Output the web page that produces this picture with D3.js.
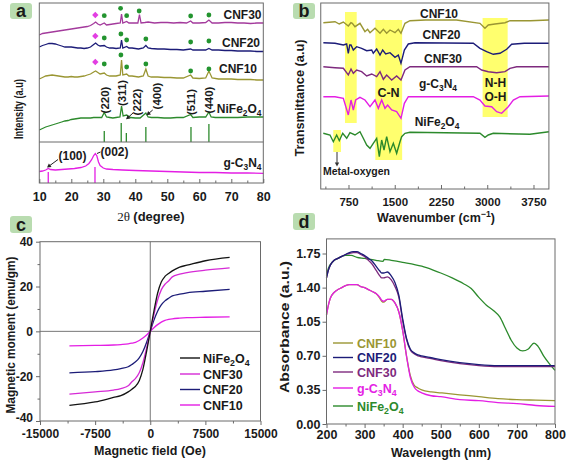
<!DOCTYPE html>
<html><head><meta charset="utf-8">
<script src="https://cdn.jsdelivr.net/npm/d3@7"></script>
<style>
body{margin:0;background:#fff;}
svg{display:block;}
text{font-family:"Liberation Sans",Arial,sans-serif;font-weight:bold;fill:#1a1a1a;}
</style></head><body>
<svg id="chart" width="567" height="465"></svg>
<script>
// ---------------- Panel a : XRD ----------------
const xrdCNF30 = [[10,148],[11,149.5],[12,150],[13,150.5],[14,151],[15,151.5],[16,152],[17,152.5],[18,153],[19,153.5],[20,154],[21,154.5],[22,155],[23,155.5],[24,156],[25,156.5],[26,157.5],[27,159.5],[27.6,161],[28.3,159],[29,158],[30.3,160],[31,158],[32,158.5],[33,159],[34,159.5],[35.3,160],[35.7,169],[36.1,160],[37.3,161.5],[38,160],[39,160],[40.8,160],[41.3,168.5],[41.8,160],[43,160.5],[44,161],[46,160],[48,160.5],[50,160.5],[52,160],[54,160.5],[56,160],[57.3,162],[58,160],[60,160],[62,160.5],[63,163],[64,160],[66,160],[68,160.5],[70,160.5],[72,160],[74,160],[76,159.5],[78,160],[80,160]];
const xrdCNF20 = [[10,136],[11,137.5],[12,138.5],[13,139.5],[14,139.5],[15,139],[16,138],[17,137],[18,136],[19,136],[20,136],[21,135.5],[22,135],[23,135],[24,134.5],[25,135],[26,136],[27,138.5],[27.6,140],[28.3,138],[29,137],[30.3,137.5],[31,136],[32,135],[33,135],[34,134.5],[35.3,135],[35.7,143],[36.1,135],[37.3,136.5],[38,135],[39,135],[41,134],[42.5,135],[43.3,137.5],[44,135],[45,134.5],[47,134],[49,134],[51,133.5],[53,133.5],[55,133],[57.3,134],[58,133],[60,133],[62,133],[63,134.5],[64,133],[66,133],[68,132.5],[70,132.5],[72,132],[74,132],[76,132],[78,131.5],[80,131.5]];
const xrdCNF10 = [[10,104],[11,105.5],[12,107],[13,107.5],[14,108],[15,107.5],[16,107],[17,106.5],[18,106],[19,106],[20,106.5],[21,106],[22,106],[23,106.5],[24,107],[25,108],[26,109],[27,111],[27.6,112],[28.3,110.5],[29,109],[30.3,110],[31,108],[32,107],[33,107],[34,107],[35.3,108],[35.7,123],[36.1,108],[37.3,109],[38,107],[39,107],[41,106],[42.5,107],[43.3,114],[44,107],[45,106],[47,106],[49,105.5],[51,105.5],[53,105],[55,105],[57.3,108],[58,105],[60,104.5],[62,105],[63,112],[64,105],[66,104],[68,104],[70,104],[72,103.5],[74,103.5],[76,103.5],[78,103],[80,103]];
const xrdNiFe = [[10,53],[11,54.5],[12,56],[13,57],[14,58],[15,59],[16,60],[17,61],[18,62],[19,62.5],[20,63.5],[21,64],[22,64.5],[23,65],[24,65],[25,65],[26,65],[27,65.5],[28,65.5],[29.5,65.5],[30.3,70.5],[31,66],[32,65.5],[33,65],[34,65.5],[35.2,66],[35.7,77],[36.2,67],[37.3,68],[38.5,65.5],[40,65],[41.5,65],[43.3,70],[44,66],[45,65.5],[47,65.5],[49,65],[51,65],[53,65.5],[55,65.5],[57.3,68.5],[58,65.5],[60,66],[62,66],[63,71],[63.7,66],[65,65.5],[67,65.5],[70,65.5],[72,65.5],[75,66],[78,66],[80,66]];
const xrdGCN = [[10,11.5],[11,12],[12,13],[12.8,14.5],[13.5,13.5],[15,13],[17,13.5],[19,14],[21,14.5],[23,15.5],[24.5,17],[25.5,19.5],[26.3,23],[27,27.5],[27.5,29.5],[28,27],[28.5,21],[29,17.5],[30,15],[31,14],[33,13.5],[36,13],[40,12.5],[45,12],[50,11.5],[55,11],[60,10.5],[65,10.5],[70,10],[75,10],[80,9.7]];
const sticksNiFe = [[30.3,52],[35.6,60],[37.2,50],[43.3,56],[57.4,56],[63,59]];
const sticksGCN = [[12.8,11],[27.4,16]];
const markCNF30 = {diamond:[[27.5,168]], circles:[[30.3,167.3],[35.4,174.7],[37.3,167.3],[41.2,172],[57.3,167],[63,168]]};
const markCNF20 = {diamond:[[27.5,147]], circles:[[30.3,145],[35.5,149],[37.3,143],[43.3,144],[57.3,141],[63,142]]};
const markCNF10 = {diamond:[[27.5,121]], circles:[[30.3,119],[35.5,128],[37.3,116],[43.3,119],[57.3,112],[63,114]]};
const hklNiFe = [["(220)",30.3,100],["(311)",35.6,93],["(222)",40.5,102],["(400)",46.6,96],["(511)",57.2,102],["(440)",62.9,100]];
const xTicksA = [10,20,30,40,50,60,70,80];

// ---------------- Panel b : FTIR ----------------
const irCNF10 = [[342,166.3],[531,167.3],[600,165],[666,167],[747,163],[790,166.3],[812,165.7],[855,162.3],[936,165.7],[1017,157.3],[1060,159.7],[1099,156.3],[1180,160.7],[1261,155.7],[1315,159.7],[1369,155.7],[1423,159],[1504,156.3],[1558,159.7],[1601,155.7],[1666,165.7],[1747,168.3],[2000,169],[2500,169],[2882,165.7],[2963,160.7],[3017,164],[3125,165],[3288,166.3],[3369,168.3],[3700,168.3],[4000,169]];
const irCNF20 = [[342,146.3],[531,145.7],[666,144],[720,145],[747,135.7],[770,144],[791,144],[828,139],[882,142.3],[963,140.7],[1045,138.3],[1126,139],[1152,135.7],[1207,140],[1261,134],[1304,139],[1353,135],[1423,136.3],[1504,131.7],[1558,134],[1601,125.7],[1656,139],[1720,145],[1828,146.3],[2774,145.7],[2882,140.7],[2990,137.3],[3098,134.7],[3207,135.7],[3315,139.7],[3396,144.7],[3600,145.7],[4000,145.7]];
const irCNF30 = [[342,122.3],[531,121.3],[666,120.7],[747,114],[791,120],[828,115.7],[882,119],[963,117.3],[1045,113],[1126,115],[1207,112.3],[1261,117.3],[1315,109.7],[1369,114],[1450,109],[1531,113],[1601,109],[1666,119],[1747,122.3],[2828,122.3],[2909,119],[3017,117.3],[3153,116.3],[3288,117.3],[3369,120.7],[3477,122.3],[4000,122.3]];
const irGCN = [[342,92.3],[531,92.3],[666,90.7],[747,74],[791,89],[828,79],[866,89],[936,91.7],[1017,89],[1099,82.3],[1180,89],[1234,80.7],[1288,89],[1342,80.7],[1385,84],[1450,79],[1531,77.3],[1601,70.7],[1656,85.7],[1720,92.3],[2774,92.3],[2882,89],[2963,83],[3072,82.3],[3153,77.3],[3234,75.7],[3341,82.3],[3423,89],[3531,92.3],[4000,93]];
const irNiFe = [[341,55.7],[450,54],[504,47.3],[558,54],[601,48.3],[656,55.7],[721,50.7],[774,56.3],[855,54],[936,57.3],[990,50.7],[1045,44],[1099,40.7],[1152,45.7],[1207,50.7],[1250,32.3],[1288,49],[1326,39],[1369,52.3],[1423,37.3],[1477,45.7],[1531,35.7],[1585,47.3],[1612,52.3],[1666,55.7],[1747,56.7],[2882,55.7],[2963,51.7],[3017,54],[3098,55.7],[3693,54.7],[4000,57.3]];
const bandsB = [[693,883,66,177],[1185,1620,29,169],[2925,3331,72,171],[503,628,37,59]];
const xTicksB = [750,1500,2250,3000,3750];

// ---------------- Panel c : VSM ----------------
const fieldC = [-11000,-7500,-5000,-4000,-3000,-2500,-2000,-1500,-1000,-500,0,500,1000,1500,2000,2500,3000,4000,5000,7500,10800];
const magNiFe = [-33,-31.5,-29.5,-28.7,-27,-25.8,-24.5,-22,-17,-9,0,9,17,22,24.5,25.8,27,28.7,29.5,31.5,33];
const magCNF30 = [-28,-27,-26.2,-25.5,-24.3,-22.5,-21,-18.5,-14,-7.5,0,7.5,14,18.5,21,22.5,24.3,25.5,26.2,27.3,28.3];
const magCNF20 = [-18.5,-18,-17.2,-16.6,-15.8,-14.8,-13.6,-11.8,-9,-5,0,5,9,11.8,13.6,14.8,15.8,16.6,17.2,17.9,18.7];
const magCNF10 = [-6.5,-6.3,-6.1,-5.9,-5.6,-5.3,-4.9,-4.1,-3,-1.6,0,1.6,3,4.1,4.9,5.3,5.6,5.9,6.1,6.3,6.5];
const xTicksC = [-15000,-7500,0,7500,15000];
const yTicksC = [-40,-20,0,20,40];

// ---------------- Panel d : UV-vis ----------------
const wl = [200,205,210,220,230,240,250,260,270,280,290,300,310,320,330,340,345,350,360,370,380,390,400,410,420,430,440,450,475,500,550,600,650,700,750,800];
const absCNF20 = [1.50,1.58,1.63,1.68,1.70,1.72,1.74,1.76,1.77,1.77,1.75,1.73,1.70,1.67,1.62,1.57,1.55,1.55,1.56,1.52,1.45,1.32,1.08,0.88,0.77,0.73,0.71,0.70,0.68,0.66,0.63,0.61,0.60,0.60,0.60,0.60];
const absCNF30 = [1.50,1.58,1.63,1.68,1.70,1.72,1.74,1.75,1.76,1.76,1.74,1.72,1.68,1.64,1.58,1.52,1.50,1.50,1.51,1.48,1.41,1.30,1.06,0.87,0.76,0.72,0.70,0.69,0.67,0.65,0.62,0.60,0.59,0.59,0.59,0.59];
const absCNF10 = [1.12,1.22,1.29,1.35,1.38,1.40,1.42,1.43,1.43,1.43,1.41,1.40,1.38,1.36,1.34,1.29,1.26,1.25,1.28,1.28,1.24,1.15,0.96,0.70,0.50,0.40,0.37,0.35,0.33,0.32,0.30,0.28,0.26,0.25,0.245,0.24];
const absGCN = [1.12,1.22,1.29,1.35,1.38,1.40,1.42,1.43,1.43,1.43,1.41,1.40,1.38,1.36,1.34,1.30,1.27,1.26,1.28,1.28,1.24,1.15,0.96,0.70,0.48,0.38,0.34,0.32,0.29,0.28,0.25,0.24,0.22,0.21,0.19,0.18];
const wlNiFe = [200,205,215,230,250,265,280,300,330,348,352,370,400,450,480,500,530,560,580,600,620,640,655,670,685,700,715,730,745,755,770,785,800];
const absNiFe = [1.52,1.60,1.66,1.70,1.73,1.73,1.71,1.70,1.68,1.67,1.69,1.68,1.66,1.62,1.58,1.55,1.50,1.44,1.39,1.30,1.22,1.16,1.10,0.98,0.86,0.78,0.75,0.77,0.83,0.80,0.70,0.62,0.55];
const xTicksD = [200,300,400,500,600,700,800];
const yTicksD = [0,0.35,0.70,1.05,1.40,1.75];

const COL = {olive:"#9a9633", navy:"#1c1c78", purpleA:"#a33a9c", purple:"#7e2a7e", magenta:"#e41ee4", green:"#2c8a2c", black:"#141414", mag2:"#d62ad6", yellow:"#ffff6e", tag:"#b9dcb0", axis:"#6a6a6a"};

const svg = d3.select("#chart");

function rich(t, s, fs){
  const parts = s.split(/(_\d+|\^[^\s)]+)/).filter(p=>p!=="");
  let shift = 0;
  parts.forEach(p=>{
    if(p[0]==="_"){ t.append("tspan").attr("dy", 3 - shift).attr("font-size", fs*0.7).text(p.slice(1)); shift = 3; }
    else if(p[0]==="^"){ t.append("tspan").attr("dy", -5 - shift).attr("font-size", fs*0.7).text(p.slice(1)); shift = -5; }
    else { t.append("tspan").attr("dy", -shift).text(p); shift = 0; }
  });
  return t;
}
function txt(g, x, y, s, fs, opts={}){
  const t = g.append("text").attr("x", x).attr("y", y).attr("font-size", fs)
    .attr("text-anchor", opts.anchor||"start");
  if(opts.fill) t.style("fill", opts.fill);
  if(opts.rotate) t.attr("transform", `rotate(${opts.rotate},${x},${y})`);
  if(opts.len) t.attr("textLength", opts.len).attr("lengthAdjust","spacingAndGlyphs");
  rich(t, s, fs);
  return t;
}
function box(g, x, y){
  const x0=x.range()[0], x1=x.range()[1], y0=y.range()[1], y1=y.range()[0];
  g.append("rect").attr("x",x0).attr("y",y0).attr("width",x1-x0).attr("height",y1-y0)
    .attr("fill","none").attr("stroke",COL.axis).attr("stroke-width",1);
}
function tag(x, y, w, h, letter){
  svg.append("rect").attr("x",x).attr("y",y).attr("width",w).attr("height",h).attr("rx",3).attr("fill",COL.tag);
  svg.append("text").attr("x",x+w/2).attr("y",y+h-2.5).attr("text-anchor","middle").attr("font-size",18).text(letter);
}
function styleAxis(a){
  a.select(".domain").remove();
  a.selectAll(".tick line").attr("stroke",COL.axis);
  a.selectAll(".tick text").attr("font-family",'"Liberation Sans",Arial,sans-serif').attr("font-weight","bold").attr("fill","#1a1a1a");
}
function arrowHead(g, x, y, ang, col){
  const r = ang*Math.PI/180, L=4, W=2.2;
  const bx = x - L*Math.cos(r), by = y - L*Math.sin(r);
  const px = -Math.sin(r)*W, py = Math.cos(r)*W;
  g.append("path").attr("d",`M${x},${y}L${bx+px},${by+py}L${bx-px},${by-py}Z`).attr("fill",col);
}

// ===== Panel a =====
(function(){
  const g = svg.append("g");
  const x = d3.scaleLinear().domain([10,80]).range([39.3,263.3]);
  const y = d3.scaleLinear().domain([0,180]).range([183,3]);
  const line = d3.line().x(d=>x(d[0])).y(d=>y(d[1]));
  const series = [[xrdCNF30,COL.purpleA],[xrdCNF20,COL.navy],[xrdCNF10,COL.olive],[xrdNiFe,COL.green],[xrdGCN,COL.magenta]];
  series.forEach(([d,c])=>g.append("path").datum(d).attr("d",line).attr("fill","none").attr("stroke",c).attr("stroke-width",1.3));
  sticksNiFe.forEach(s=>g.append("line").attr("x1",x(s[0])).attr("x2",x(s[0])).attr("y1",y(41)).attr("y2",y(s[1])).attr("stroke",COL.green).attr("stroke-width",1.3));
  sticksGCN.forEach(s=>g.append("line").attr("x1",x(s[0])).attr("x2",x(s[0])).attr("y1",y(0)).attr("y2",y(s[1])).attr("stroke",COL.magenta).attr("stroke-width",1.3));
  [markCNF30,markCNF20,markCNF10].forEach(m=>{
    m.circles.forEach(p=>g.append("circle").attr("cx",x(p[0])).attr("cy",y(p[1])).attr("r",2.4).attr("fill","#23942f"));
    m.diamond.forEach(p=>g.append("path").attr("transform",`translate(${x(p[0])},${y(p[1])})`)
      .attr("d",d3.symbol(d3.symbolDiamond2,26)()).attr("fill","#e23ee2"));
  });
  box(g,x,y);
  g.append("line").attr("x1",x(10)).attr("x2",x(80)).attr("y1",y(41)).attr("y2",y(41)).attr("stroke",COL.axis);
  const ax = g.append("g").attr("transform",`translate(0,${y(0)})`)
    .call(d3.axisBottom(x).tickValues(xTicksA).tickFormat(d=>d).tickSize(-4).tickPadding(9));
  styleAxis(ax); ax.selectAll(".tick text").attr("font-size",12.5);
  const axm = g.append("g").attr("transform",`translate(0,${y(0)})`)
    .call(d3.axisBottom(x).tickValues(d3.range(15,80,10)).tickFormat("").tickSize(-2.5));
  styleAxis(axm);
  txt(g,261.5,19,"CNF30",12,{anchor:"end"});
  txt(g,260,46.7,"CNF20",12,{anchor:"end"});
  txt(g,257,73.3,"CNF10",12,{anchor:"end"});
  txt(g,261.5,112.7,"NiFe_2O_4",12,{anchor:"end"});
  txt(g,261.5,167.3,"g-C_3N_4",12,{anchor:"end"});
  hklNiFe.forEach(h=>{
    const bx = x(h[1]) + 4.5;
    txt(g,bx,y(183-h[2]),h[0],11.5,{anchor:"middle",rotate:-90});
  });
  g.append("line").attr("x1",133).attr("y1",113).attr("x2",127.5).attr("y2",118).attr("stroke","#222").attr("stroke-width",1);
  arrowHead(g,126,119.3,140,"#222");
  g.append("line").attr("x1",152.7).attr("y1",110).attr("x2",148).attr("y2",114).attr("stroke","#222").attr("stroke-width",1);
  arrowHead(g,146.5,115.3,140,"#222");
  txt(g,58.5,160,"(100)",12);
  g.append("line").attr("x1",58).attr("y1",159.5).attr("x2",48.5).attr("y2",166.5).attr("stroke","#222").attr("stroke-width",1);
  arrowHead(g,47,167.6,143,"#222");
  txt(g,100.5,156,"(002)",12);
  g.append("line").attr("x1",100.5).attr("y1",152).attr("x2",97).attr("y2",153.5).attr("stroke","#222").attr("stroke-width",1);
  txt(g,23,109,"Intensity (a.u)",13,{anchor:"middle",rotate:-90,len:60});
  const xt = g.append("text").attr("x",151).attr("y",221).attr("text-anchor","middle").attr("font-size",13);
  xt.append("tspan").attr("font-family",'"Liberation Serif","Times New Roman",serif').attr("font-weight","normal").text("2θ ");
  xt.append("tspan").text("(degree)");
})();

// ===== Panel b =====
(function(){
  const g = svg.append("g");
  const x = d3.scaleLinear().domain([300,4000]).range([320.75,548.9]);
  const y = d3.scaleLinear().domain([0,186]).range([189,3]);
  const line = d3.line().x(d=>x(d[0])).y(d=>y(d[1]));
  bandsB.forEach(b=>g.append("rect").attr("x",x(b[0])).attr("width",x(b[1])-x(b[0])).attr("y",y(b[3])).attr("height",y(b[2])-y(b[3])).attr("fill",COL.yellow));
  const series = [[irCNF10,COL.olive],[irCNF20,COL.navy],[irCNF30,COL.purple],[irGCN,COL.magenta],[irNiFe,COL.green]];
  series.forEach(([d,c])=>g.append("path").datum(d).attr("d",line).attr("fill","none").attr("stroke",c).attr("stroke-width",1.4));
  box(g,x,y);
  const ax = g.append("g").attr("transform",`translate(0,${y(0)})`)
    .call(d3.axisBottom(x).tickValues(xTicksB).tickFormat(d=>d).tickSize(-4).tickPadding(9));
  styleAxis(ax); ax.selectAll(".tick text").attr("font-size",11.5);
  const axm = g.append("g").attr("transform",`translate(0,${y(0)})`)
    .call(d3.axisBottom(x).tickValues([375,1125,1875,2625,3375]).tickFormat("").tickSize(-2.5));
  styleAxis(axm);
  txt(g,439,18,"CNF10",12,{anchor:"middle"});
  txt(g,441.5,39,"CNF20",12,{anchor:"middle"});
  txt(g,443,63,"CNF30",12,{anchor:"middle"});
  txt(g,438,87.5,"g-C_3N_4",12,{anchor:"middle"});
  txt(g,437,126,"NiFe_2O_4",12,{anchor:"middle"});
  txt(g,388.5,97,"C-N",12.5,{anchor:"middle"});
  txt(g,495.5,87,"N-H",12,{anchor:"middle"});
  txt(g,495.5,101,"O-H",12,{anchor:"middle"});
  txt(g,323,175,"Metal-oxygen",11,{len:67});
  g.append("line").attr("x1",337).attr("x2",337).attr("y1",152).attr("y2",163).attr("stroke","#333").attr("stroke-width",1);
  arrowHead(g,337,166.5,90,"#333");
  txt(g,303.5,98,"Transmittance (a.u)",12.5,{anchor:"middle",rotate:-90,len:117});
  txt(g,436,222,"Wavenumber (cm^−1)",12.5,{anchor:"middle"});
})();

// ===== Panel c =====
(function(){
  const g = svg.append("g");
  const x = d3.scaleLinear().domain([-15000,15000]).range([40,260.5]);
  const y = d3.scaleLinear().domain([-40,40]).range([421,241.7]);
  g.append("line").attr("x1",x(0)).attr("x2",x(0)).attr("y1",y(-40)).attr("y2",y(40)).attr("stroke","#777");
  g.append("line").attr("x1",x(-15000)).attr("x2",x(15000)).attr("y1",y(0)).attr("y2",y(0)).attr("stroke","#777");
  const line = d3.line().x((d,i)=>x(fieldC[i])).y(d=>y(d)).curve(d3.curveMonotoneX);
  const series = [[magCNF10,COL.magenta],[magCNF20,COL.navy],[magCNF30,COL.mag2],[magNiFe,COL.black]];
  series.forEach(([d,c])=>g.append("path").datum(d).attr("d",line).attr("fill","none").attr("stroke",c).attr("stroke-width",1.3));
  box(g,x,y);
  const ax = g.append("g").attr("transform",`translate(0,${y(-40)})`)
    .call(d3.axisBottom(x).tickValues(xTicksC).tickFormat(d=>String(d)).tickSize(4).tickPadding(4));
  styleAxis(ax); ax.selectAll(".tick text").attr("font-size",12);
  const axm = g.append("g").attr("transform",`translate(0,${y(-40)})`)
    .call(d3.axisBottom(x).tickValues([-11250,-3750,3750,11250]).tickFormat("").tickSize(2.5));
  styleAxis(axm);
  const ay = g.append("g").attr("transform",`translate(${x(-15000)},0)`)
    .call(d3.axisLeft(y).tickValues(yTicksC).tickFormat(d=>String(d)).tickSize(4).tickPadding(3));
  styleAxis(ay); ay.selectAll(".tick text").attr("font-size",12);
  ay.selectAll(".tick").filter(d=>d===-40).select("text").attr("dy","0.05em");
  const aym = g.append("g").attr("transform",`translate(${x(-15000)},0)`)
    .call(d3.axisLeft(y).tickValues([-30,-10,10,30]).tickFormat("").tickSize(2.5));
  styleAxis(aym);
  const leg = [["NiFe_2O_4",COL.black,358],["CNF30",COL.mag2,374],["CNF20",COL.navy,389.5],["CNF10",COL.magenta,405]];
  leg.forEach(l=>{
    g.append("line").attr("x1",180).attr("x2",200).attr("y1",l[2]).attr("y2",l[2]).attr("stroke",l[1]).attr("stroke-width",1.4);
    txt(g,203,l[2]+4.5,l[0],12.5);
  });
  txt(g,15,335,"Magnetic moment (emu/gm)",12,{anchor:"middle",rotate:-90,len:157});
  txt(g,150,455,"Magnetic field (Oe)",12.5,{anchor:"middle"});
})();

// ===== Panel d =====
(function(){
  const g = svg.append("g");
  const x = d3.scaleLinear().domain([200,800]).range([326.5,555]);
  const y = d3.scaleLinear().domain([0,1.9]).range([424,238.9]);
  const line = d3.line().x((d,i)=>x(wl[i])).y(d=>y(d)).curve(d3.curveMonotoneX);
  const lineN = d3.line().x((d,i)=>x(wlNiFe[i])).y(d=>y(d)).curve(d3.curveMonotoneX);
  g.append("path").datum(absNiFe).attr("d",lineN).attr("fill","none").attr("stroke",COL.green).attr("stroke-width",1.3);
  const series = [[absCNF10,COL.olive],[absGCN,COL.magenta],[absCNF30,COL.purple],[absCNF20,COL.navy]];
  series.forEach(([d,c])=>g.append("path").datum(d).attr("d",line).attr("fill","none").attr("stroke",c).attr("stroke-width",1.3));
  box(g,x,y);
  const ax = g.append("g").attr("transform",`translate(0,${y(0)})`)
    .call(d3.axisBottom(x).tickValues(xTicksD).tickFormat(d=>d).tickSize(4).tickPadding(2));
  styleAxis(ax); ax.selectAll(".tick text").attr("font-size",12.5);
  const axm = g.append("g").attr("transform",`translate(0,${y(0)})`)
    .call(d3.axisBottom(x).tickValues(d3.range(250,800,100)).tickFormat("").tickSize(2.5));
  styleAxis(axm);
  const ay = g.append("g").attr("transform",`translate(${x(200)},0)`)
    .call(d3.axisLeft(y).tickValues(yTicksD).tickFormat(d3.format(".2f")).tickSize(4).tickPadding(2));
  styleAxis(ay); ay.selectAll(".tick text").attr("font-size",12.5);
  const leg = [["CNF10",COL.olive,343],["CNF20",COL.navy,357.5],["CNF30",COL.purple,372],["g-C_3N_4",COL.magenta,388],["NiFe_2O_4",COL.green,406]];
  leg.forEach(l=>{
    g.append("line").attr("x1",333).attr("x2",353).attr("y1",l[2]).attr("y2",l[2]).attr("stroke",l[1]).attr("stroke-width",1.4);
    txt(g,357,l[2]+4.5,l[0],12.5,{fill:l[1]});
  });
  txt(g,289,327,"Absorbance (a.u.)",12.5,{anchor:"middle",rotate:-90,len:132});
  txt(g,441,457,"Wavelength (nm)",12.5,{anchor:"middle"});
})();

tag(10,3,22,16,"a");
tag(293,3,22,16,"b");
tag(10,216,22,17,"c");
tag(293,213,22,17,"d");
</script>
</body></html>
